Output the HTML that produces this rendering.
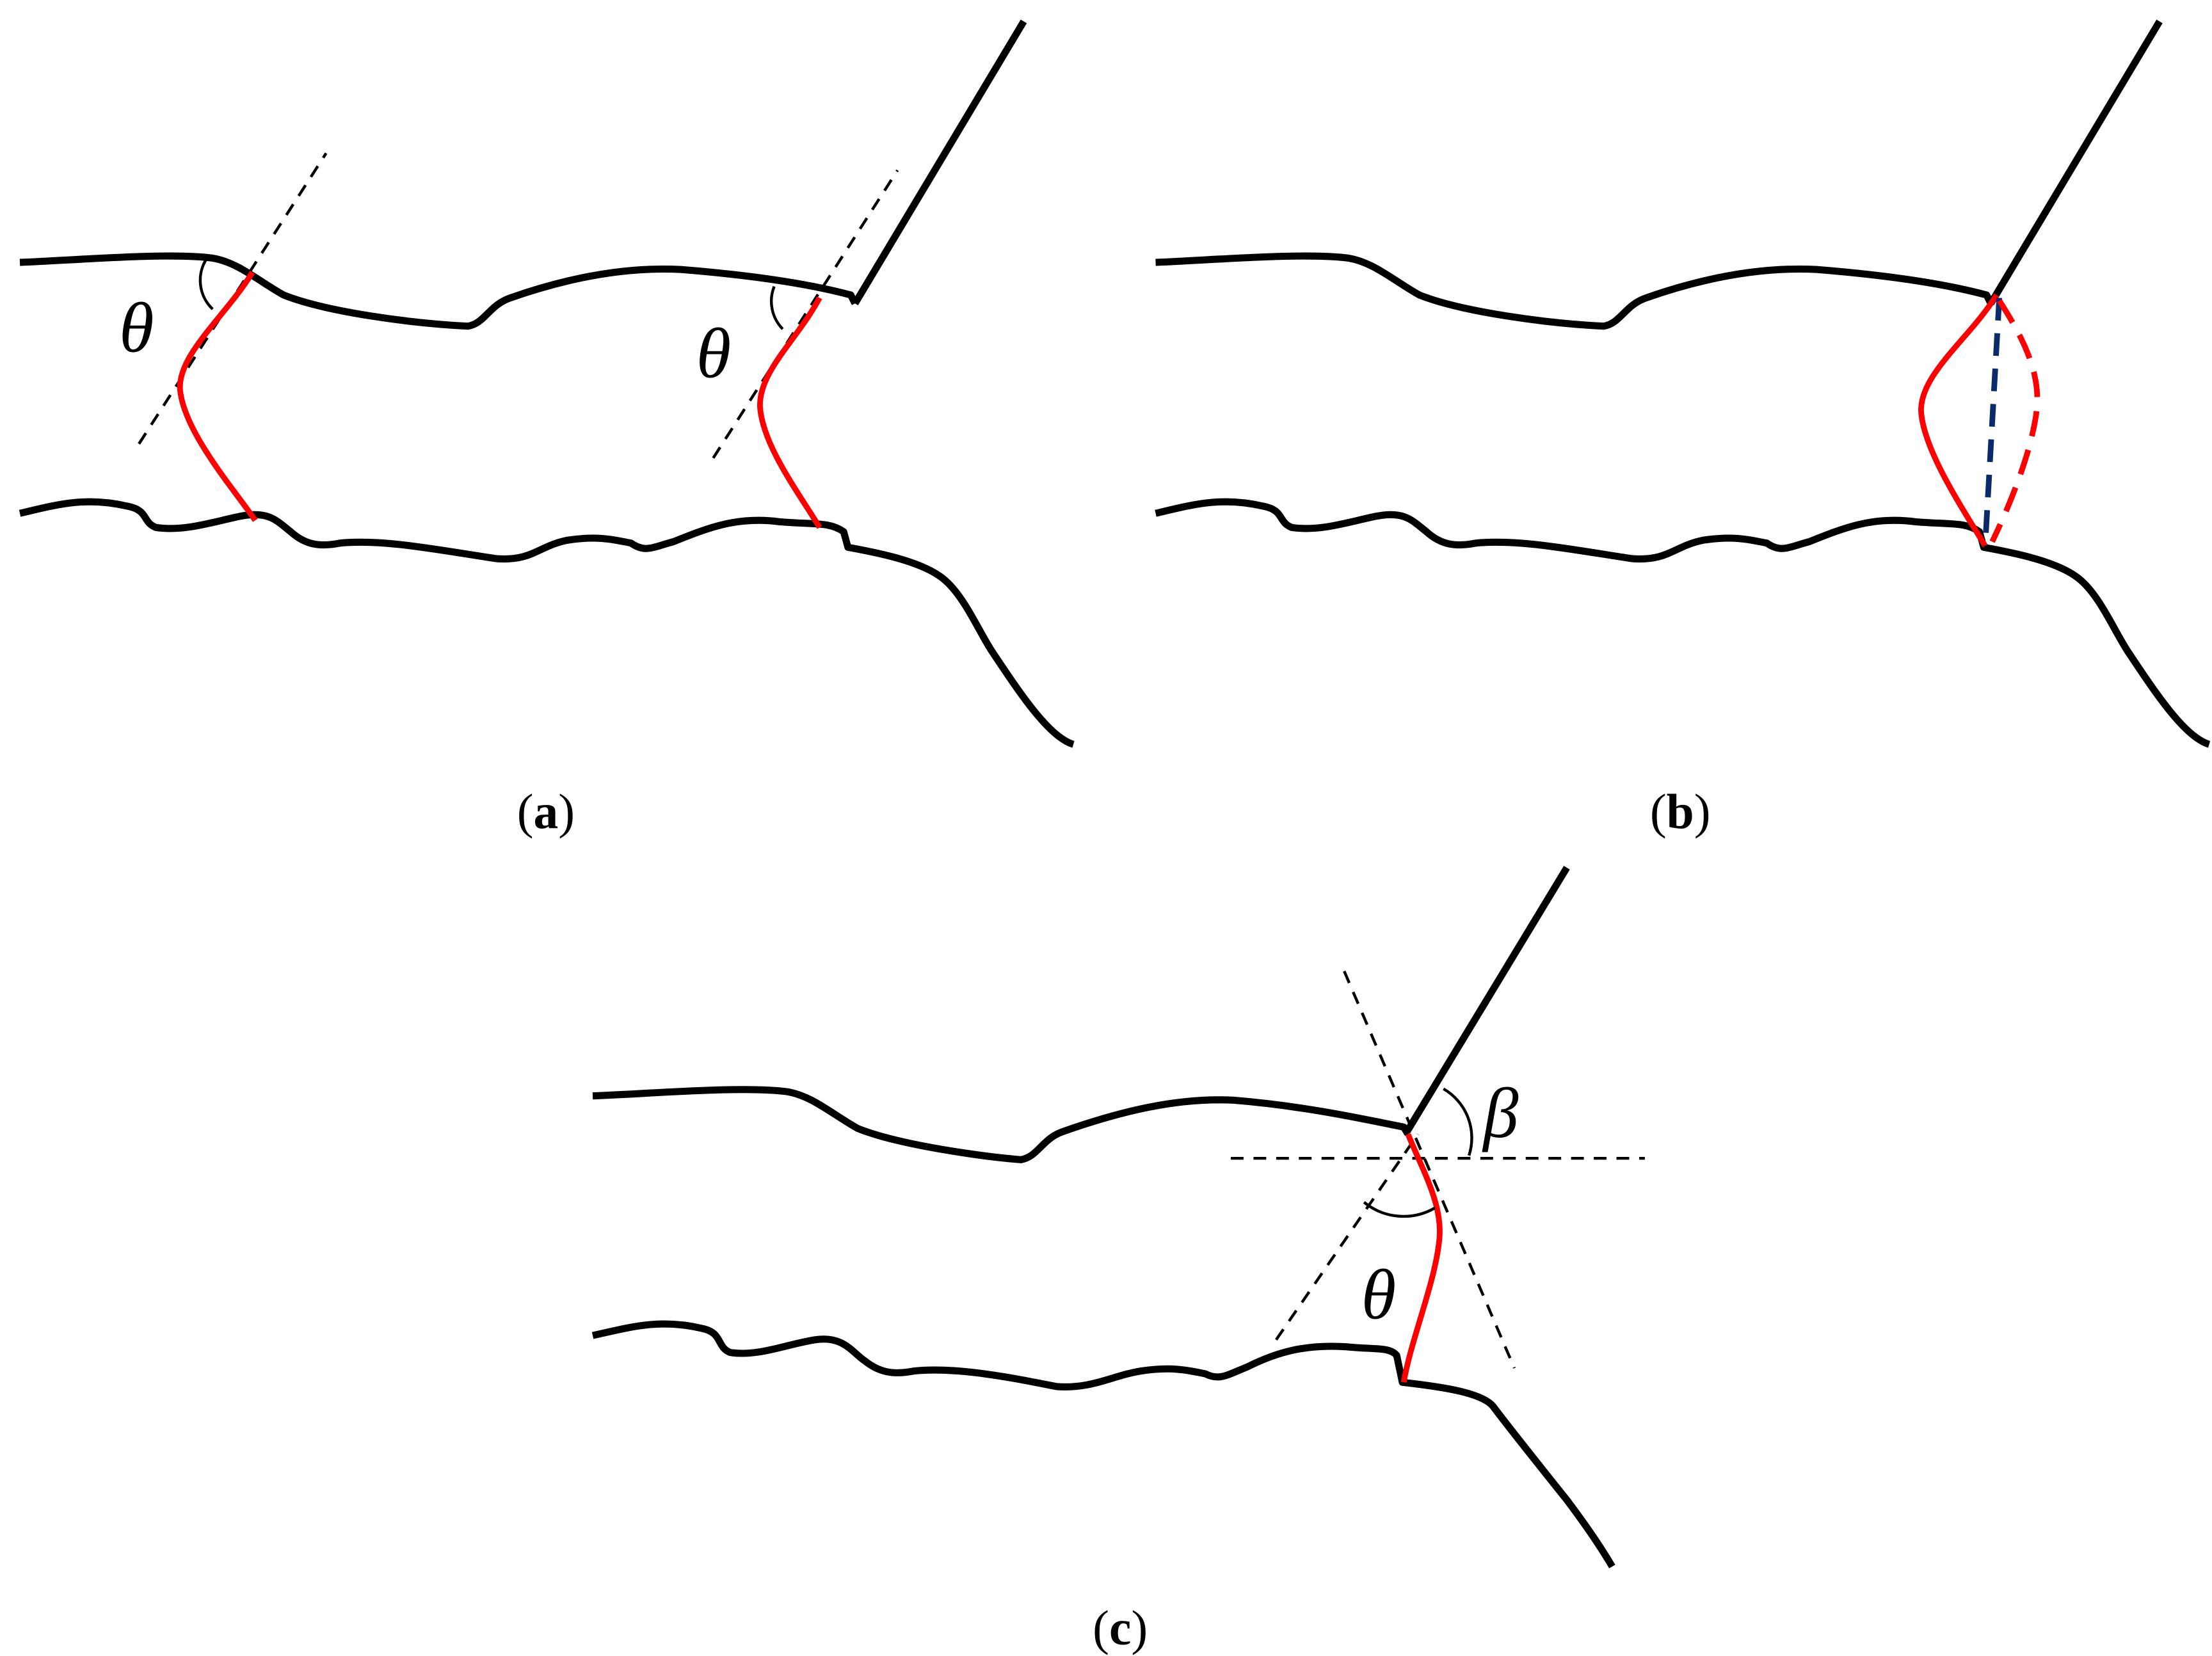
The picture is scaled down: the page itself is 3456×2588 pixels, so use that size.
<!DOCTYPE html>
<html><head><style>html,body{margin:0;padding:0;background:#fff}svg{display:block}</style></head>
<body>
<svg width="3456" height="2588" viewBox="0 0 1560 1168" xmlns="http://www.w3.org/2000/svg">
<defs>
<g id="shape">
<path d="M14,185 C60,183 120,178 150,182 C168,185 182,198 200,208 C230,220 290,228 330,230 C342,228 345,215 360,210 C400,196 440,188 480,190 C530,194 570,200 600,208 L603,214" fill="none" stroke="#000" stroke-width="5" stroke-linejoin="round"/>
<path d="M603,214 L722,15" fill="none" stroke="#000" stroke-width="5"/>
<path d="M14,362 C40,356 60,350 90,357 C105,360 100,368 110,372 C130,375 150,368 170,364 C190,360 196,368 205,375 C215,384 225,386 240,383 C270,380 310,388 350,394 C375,396 380,385 400,381 C420,378 430,380 445,383 C455,390 460,386 475,382 C500,372 520,364 550,368 C575,370 585,368 595,375 L598,386 C620,390 650,396 665,408 C680,420 690,445 700,460 C720,490 740,520 757,525" fill="none" stroke="#000" stroke-width="5" stroke-linejoin="round"/>
</g>
</defs>
<use href="#shape"/>
<path d="M98,313 L230,108" stroke="#000" stroke-width="2" stroke-dasharray="9,7" fill="none"/>
<path d="M503,323 L633,120" stroke="#000" stroke-width="2" stroke-dasharray="9,7" fill="none"/>
<path d="M178,192 C160,222 125,250 127,275 C130,305 165,345 180,367" stroke="#f00" stroke-width="4" fill="none"/>
<path d="M578,210 C562,240 535,262 536,287 C538,315 565,350 578,372" stroke="#f00" stroke-width="4" fill="none"/>
<path d="M146,182 A28,28 0 0 0 150,218" stroke="#000" stroke-width="2" fill="none"/>
<path d="M546,202 A28,28 0 0 0 552,232" stroke="#000" stroke-width="2" fill="none"/>
<text x="84" y="248" font-family="Liberation Serif, serif" font-style="italic" font-size="50">θ</text>
<text x="491" y="266" font-family="Liberation Serif, serif" font-style="italic" font-size="50">θ</text>
<text x="385" y="584" text-anchor="middle" font-family="Liberation Serif, serif" font-size="35">(<tspan font-weight="bold">a</tspan>)</text>
<g transform="translate(801,0)">
<use href="#shape"/>
</g>
<path d="M1408,208 C1390,238 1352,265 1355,292 C1358,320 1385,360 1400,385" stroke="#f00" stroke-width="4" fill="none"/>
<path d="M1410,210 L1400,385" stroke="#0a2a6a" stroke-width="4" stroke-dasharray="16,9" fill="none"/>
<path d="M1410,212 C1428,240 1440,265 1436,292 C1432,320 1418,355 1405,382" stroke="#f00" stroke-width="4" stroke-dasharray="18,10" fill="none"/>
<text x="1185" y="584" text-anchor="middle" font-family="Liberation Serif, serif" font-size="35">(<tspan font-weight="bold">b</tspan>)</text>
<g transform="translate(405,588)">
<path d="M13,185 C60,183 120,178 150,182 C168,185 182,198 200,208 C230,220 290,228 315,230 C327,228 330,215 345,210 C385,196 425,186 465,188 C515,192 560,202 585,207 L588,212" fill="none" stroke="#000" stroke-width="5" stroke-linejoin="round"/>
<path d="M588,209 L700,24" fill="none" stroke="#000" stroke-width="5"/>
<path d="M13,354 C40,348 60,342 90,349 C105,352 100,362 110,366 C130,369 150,360 170,357 C190,354 196,366 205,372 C215,380 225,382 240,379 C270,376 310,384 340,390 C365,392 380,382 400,379 C420,376 430,378 445,381 C455,386 460,382 475,376 C495,366 515,360 545,362 C565,364 575,362 580,368 L584,387 C610,390 640,394 648,404 C660,420 680,445 700,470 C715,490 725,505 732,517" fill="none" stroke="#000" stroke-width="5" stroke-linejoin="round"/>
</g>
<path d="M868,817 L1160,817" stroke="#000" stroke-width="2" stroke-dasharray="9,7" fill="none"/>
<path d="M948,685 L1068,965" stroke="#000" stroke-width="2" stroke-dasharray="9,7" fill="none"/>
<path d="M900,945 L1000,800" stroke="#000" stroke-width="2" stroke-dasharray="9,7" fill="none"/>
<path d="M993,800 C1003,825 1018,850 1015,875 C1012,905 995,945 990,975" stroke="#f00" stroke-width="4" fill="none"/>
<path d="M1018,768 A40,40 0 0 1 1036,815" stroke="#000" stroke-width="2" fill="none"/>
<path d="M962,848 A44,44 0 0 0 1012,852" stroke="#000" stroke-width="2" fill="none"/>
<text x="1046" y="802" font-family="Liberation Serif, serif" font-style="italic" font-size="50">β</text>
<text x="960" y="930" font-family="Liberation Serif, serif" font-style="italic" font-size="50">θ</text>
<text x="790" y="1160" text-anchor="middle" font-family="Liberation Serif, serif" font-size="35">(<tspan font-weight="bold">c</tspan>)</text>
</svg>
</body></html>
